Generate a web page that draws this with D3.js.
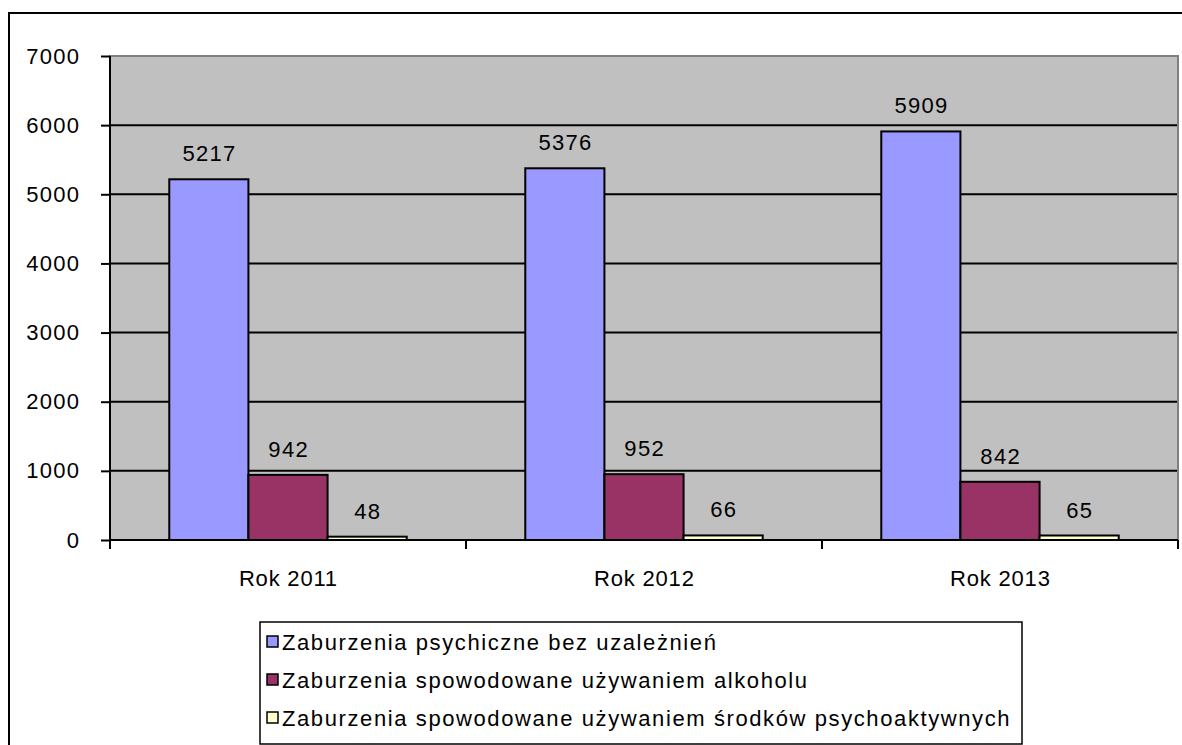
<!DOCTYPE html>
<html><head><meta charset="utf-8">
<script src="https://cdn.jsdelivr.net/npm/d3@7"></script>
<style>body{margin:0;background:#fff;overflow:hidden}svg{display:block}text{font-family:"Liberation Sans",Arial,sans-serif;fill:#000}</style>
</head><body>
<script>
const categories = ["Rok 2011", "Rok 2012", "Rok 2013"];
const seriesNames = [
  "Zaburzenia psychiczne bez uzależnień",
  "Zaburzenia spowodowane używaniem alkoholu",
  "Zaburzenia spowodowane używaniem środków psychoaktywnych"
];
const psychiczne = [5217, 5376, 5909];
const alkohol = [942, 952, 842];
const srodki = [48, 66, 65];
const seriesColors = ["#9999FF", "#993366", "#FFFFCC"];
const yTicks = [0, 1000, 2000, 3000, 4000, 5000, 6000, 7000];

const W = 1182, H = 745;
const svg = d3.select("body").append("svg").attr("width", W).attr("height", H);
const fs = 22;
const numLs = 1.3, catLs = 0.8, legLs = 1.6;

// outer frame
svg.append("rect").attr("x", 9).attr("y", 13).attr("width", 1200).attr("height", 800)
  .attr("fill", "#fff").attr("stroke", "#000").attr("stroke-width", 2);

const L = 110, R = 1178, T = 56, B = 540;
const x0 = d3.scaleBand().domain(categories).range([L, R]).paddingInner(0).paddingOuter(0);
const inner = 0.667;
const x1 = d3.scaleBand().domain(d3.range(3)).range([0, x0.bandwidth() * inner]);
const y = d3.scaleLinear().domain([0, 7000]).range([B, T]);

// plot area
svg.append("rect").attr("x", L).attr("y", T).attr("width", R - L).attr("height", B - T)
  .attr("fill", "#C0C0C0").attr("stroke", "#808080").attr("stroke-width", 2);

// gridlines
svg.append("g").selectAll("line").data(yTicks.filter(d => d > 0 && d < 7000)).join("line")
  .attr("x1", L).attr("x2", R - 1).attr("y1", d => y(d)).attr("y2", d => y(d))
  .attr("stroke", "#000").attr("stroke-width", 2);

// y axis
const yAxis = svg.append("g").attr("transform", `translate(${L},0)`)
  .call(d3.axisLeft(y).tickValues(yTicks).tickSize(9).tickPadding(22 - numLs).tickFormat(d3.format("d")));
yAxis.select(".domain").attr("stroke", "#000").attr("stroke-width", 2).attr("d", `M0,${T}V${B}`);
yAxis.selectAll(".tick line").attr("stroke", "#000").attr("stroke-width", 2);
yAxis.selectAll(".tick text").attr("font-size", fs).attr("font-family", "Liberation Sans, Arial")
  .attr("letter-spacing", numLs);

// x axis
const xAxisG = svg.append("g").attr("transform", `translate(0,${B})`);
xAxisG.append("line").attr("x1", L).attr("x2", R).attr("stroke", "#000").attr("stroke-width", 2);
xAxisG.selectAll("line.tk").data(d3.range(categories.length + 1)).join("line").attr("class", "tk")
  .attr("x1", i => L + i * x0.step()).attr("x2", i => L + i * x0.step())
  .attr("y1", 0).attr("y2", 9).attr("stroke", "#000").attr("stroke-width", 2);
xAxisG.selectAll("text").data(categories).join("text")
  .attr("x", d => x0(d) + x0.bandwidth() / 2 + catLs / 2).attr("y", 46)
  .attr("text-anchor", "middle").attr("font-size", fs).attr("letter-spacing", catLs).text(d => d);

// bars
const series = [psychiczne, alkohol, srodki];
const off = x0.bandwidth() * (1 - inner) / 2;
series.forEach((vals, si) => {
  const g = svg.append("g");
  g.selectAll("rect").data(vals).join("rect")
    .attr("x", (v, i) => x0(categories[i]) + off + x1(si))
    .attr("y", v => y(v)).attr("width", x1.bandwidth()).attr("height", v => B - y(v))
    .attr("fill", seriesColors[si]).attr("stroke", "#000").attr("stroke-width", 2);
  g.selectAll("text").data(vals).join("text")
    .attr("x", (v, i) => x0(categories[i]) + off + x1(si) + x1.bandwidth() / 2 + numLs / 2)
    .attr("y", v => y(v) - 18).attr("text-anchor", "middle").attr("font-size", fs)
    .attr("letter-spacing", numLs).text(v => v);
});

// legend
const lg = svg.append("g");
lg.append("rect").attr("x", 260).attr("y", 622).attr("width", 762).attr("height", 122)
  .attr("fill", "#fff").attr("stroke", "#000").attr("stroke-width", 1.5);
seriesNames.forEach((n, i) => {
  const cy = 642 + i * 38;
  lg.append("rect").attr("x", 267).attr("y", cy - 6).attr("width", 11).attr("height", 11)
    .attr("fill", seriesColors[i]).attr("stroke", "#000").attr("stroke-width", 1.5);
  lg.append("text").attr("x", 282).attr("y", cy + 8).attr("font-size", fs)
    .attr("letter-spacing", legLs).text(n);
});
</script>
</body></html>
